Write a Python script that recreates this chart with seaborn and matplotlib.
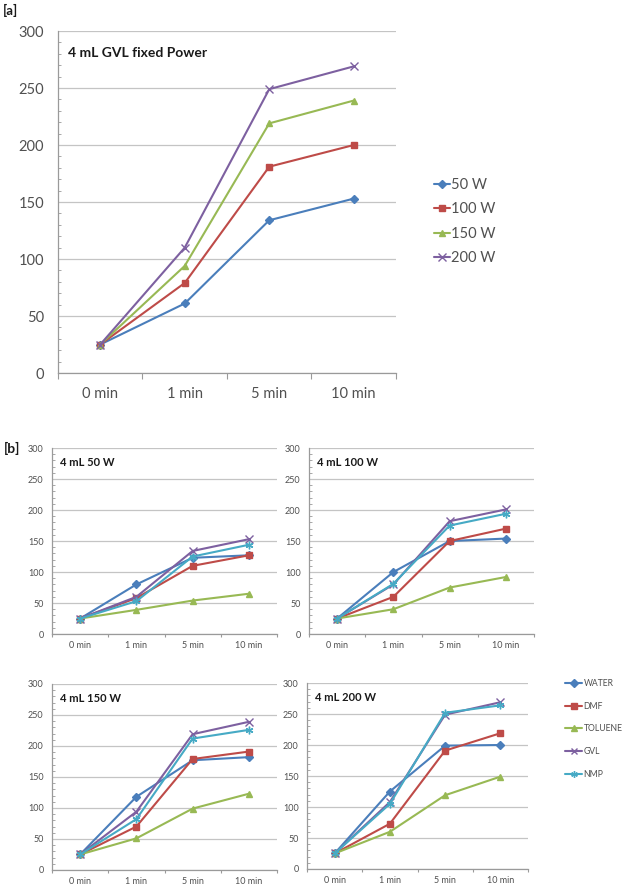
import numpy as np
import pandas as pd
import matplotlib.pyplot as plt
import seaborn as sns
from matplotlib.ticker import FixedLocator, MultipleLocator, NullFormatter
from matplotlib.lines import Line2D

# time axis shared by every panel
times = ['0 min', '1 min', '5 min', '10 min']

# [a] 4 mL GVL at fixed power
powers = ['50 W', '100 W', '150 W', '200 W']
gvl_50w = [25, 61, 134, 153]
gvl_100w = [25, 79, 181, 200]
gvl_150w = [25, 94, 219, 239]
gvl_200w = [25, 110, 249, 269]

# [b] solvents at each power, rows follow `solvents`
solvents = ['WATER', 'DMF', 'TOLUENE', 'GVL', 'NMP']
b_50w = [[25, 80, 123, 127],
         [25, 58, 110, 127],
         [25, 39, 54, 65],
         [25, 60, 134, 153],
         [25, 53, 125, 144]]
b_100w = [[25, 100, 150, 154],
          [25, 60, 150, 170],
          [25, 40, 75, 92],
          [25, 80, 182, 201],
          [25, 81, 175, 194]]
b_150w = [[25, 118, 177, 182],
          [25, 70, 179, 191],
          [25, 51, 99, 123],
          [25, 94, 219, 239],
          [25, 82, 212, 226]]
b_200w = [[25, 125, 199, 200],
          [25, 73, 191, 219],
          [25, 60, 119, 149],
          [25, 108, 249, 269],
          [25, 105, 252, 264]]
b_titles = ['4 mL 50 W', '4 mL 100 W', '4 mL 150 W', '4 mL 200 W']

blue, red, green, purple, cyan = '#4A7EBB', '#BE4B48', '#98B954', '#7D60A0', '#46AAC5'
colors = [blue, red, green, purple, cyan]
markers = ['D', 's', '^', 'x', (6, 2, 0)]
msizes = [1.0, 1.0, 1.0, 1.25, 1.25]

sns.set_style('white')
plt.rcParams['font.family'] = ['Lato', 'DejaVu Sans']

GRID = '#C4C4C4'
AXC = '#9A9A9A'
TXT = '#505050'


def style_axes(ax, fs, ypad, xpad, xtick_len):
    x = np.arange(len(times))
    ax.set_xlim(-0.5, len(times) - 0.5)
    ax.set_ylim(0, 300)
    ax.xaxis.set_major_locator(FixedLocator(np.arange(-0.5, len(times), 1.0)))
    ax.xaxis.set_major_formatter(NullFormatter())
    ax.xaxis.set_minor_locator(FixedLocator(x))
    ax.set_xticklabels(times, minor=True)
    ax.tick_params(axis='x', which='major', direction='out', length=xtick_len,
                   width=0.8, color=AXC, bottom=True)
    ax.tick_params(axis='x', which='minor', length=0, pad=xpad,
                   labelsize=fs, labelcolor=TXT, bottom=True)
    ax.yaxis.set_major_locator(MultipleLocator(50))
    ax.yaxis.set_minor_locator(MultipleLocator(10))
    ax.tick_params(axis='y', which='major', length=0, pad=ypad,
                   labelsize=fs, labelcolor=TXT, left=True)
    ax.tick_params(axis='y', which='minor', direction='in', length=2,
                   width=0.6, color=AXC, left=True)
    ax.grid(axis='y', which='major', color=GRID, linewidth=0.9)
    ax.grid(axis='x', visible=False)
    ax.set_axisbelow(True)
    for s in ['top', 'right']:
        ax.spines[s].set_visible(False)
    for s in ['left', 'bottom']:
        ax.spines[s].set_color(AXC)
        ax.spines[s].set_linewidth(0.9)
    ax.set_xlabel('')
    ax.set_ylabel('')


def draw_series(ax, values, color, marker, ms, lw):
    sns.lineplot(x=np.arange(len(times)), y=values, ax=ax, color=color,
                 marker=marker, markersize=ms, markeredgecolor=color,
                 markerfacecolor=color, markeredgewidth=1.0, linewidth=lw)


fig = plt.figure(figsize=(6.25, 8.89), dpi=100)

# ---- panel [a]
ax_a = fig.add_axes([0.0928, 0.5804, 0.5408, 0.3847])
a_series = [gvl_50w, gvl_100w, gvl_150w, gvl_200w]
for vals, c, m, k in zip(a_series, colors, markers, msizes):
    draw_series(ax_a, vals, c, m, 4.2 * k, 1.5)
style_axes(ax_a, 10.5, 10, 10, 4)
ax_a.text(0.03, 0.935, '4 mL GVL fixed Power', transform=ax_a.transAxes,
          fontsize=10, fontweight='bold', color='#1a1a1a', va='center')
handles_a = [Line2D([0], [0], color=c, marker=m, markersize=4.2 * k, mec=c, mfc=c,
                    linewidth=1.5) for c, m, k in zip(colors, markers, msizes)]
fig.legend(handles_a, powers, loc='center left', bbox_to_anchor=(0.682, 0.751),
           frameon=False, fontsize=10.5, handlelength=1.1, handletextpad=0.1,
           labelspacing=0.72, borderpad=0, labelcolor=TXT)
fig.text(0.004, 0.988, '[a]', fontsize=9.5, fontweight='bold', color='#1a1a1a',
         va='center')

# ---- panel [b]
b_rects = [[0.0832, 0.2868, 0.36, 0.2092],
           [0.4944, 0.2868, 0.36, 0.2092],
           [0.0832, 0.0214, 0.36, 0.2092],
           [0.4912, 0.0225, 0.3536, 0.2092]]
b_data = [b_50w, b_100w, b_150w, b_200w]
for rect, data, title in zip(b_rects, b_data, b_titles):
    ax = fig.add_axes(rect)
    for vals, c, m, k in zip(data, colors, markers, msizes):
        draw_series(ax, vals, c, m, 4.4 * k, 1.5)
    style_axes(ax, 6.5, 6, 5, 2.5)
    ax.text(0.035, 0.92, title, transform=ax.transAxes, fontsize=8,
            fontweight='bold', color='#1a1a1a', va='center')

handles_b = [Line2D([0], [0], color=c, marker=m, markersize=3.8 * k, mec=c, mfc=c,
                    linewidth=1.5) for c, m, k in zip(colors, markers, msizes)]
fig.legend(handles_b, solvents, loc='center left', bbox_to_anchor=(0.897, 0.18),
           frameon=False, fontsize=6.2, handlelength=2.0, handletextpad=0.15,
           labelspacing=1.6, borderpad=0, labelcolor=TXT)
fig.text(0.006, 0.496, '[b]', fontsize=10, fontweight='bold', color='#1a1a1a',
         va='center')

fig.savefig('out.png', dpi=100, facecolor='white')
